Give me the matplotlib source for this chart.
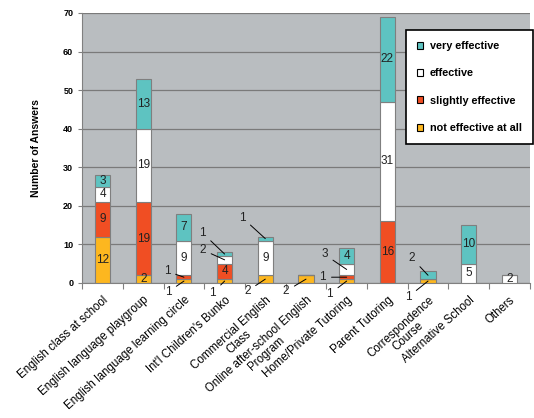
import numpy as np
import matplotlib.pyplot as plt

plt.rcParams['font.family'] = ['Liberation Sans', 'DejaVu Sans']

categories = [
    "English class at school",
    "English language playgroup",
    "English language learning circle",
    "Int'l Children's Bunko",
    "Commercial English\nClass",
    "Online after-school English\nProgram",
    "Home/Private Tutoring",
    "Parent Tutoring",
    "Correspondence\nCourse",
    "Alternative School",
    "Others",
]
not_effective = [12, 2, 1, 1, 2, 2, 1, 0, 1, 0, 0]
slightly_effective = [9, 19, 1, 4, 0, 0, 1, 16, 0, 0, 0]
effective = [4, 19, 9, 2, 9, 0, 3, 31, 0, 5, 2]
very_effective = [3, 13, 7, 1, 1, 0, 4, 22, 2, 10, 0]

series = [
    ("not effective at all", not_effective, "#FDB71F"),
    ("slightly effective", slightly_effective, "#F04E23"),
    ("effective", effective, "#FFFFFF"),
    ("very effective", very_effective, "#5EC3C1"),
]

# labels drawn outside the bar with a leader line: (category, series) -> pixel offset
outside = {
    (2, 1): (-17, 6), (2, 0): (-16, -11),
    (3, 3): (-22, 21), (3, 2): (-22, 10), (3, 0): (-12, -12),
    (4, 3): (-23, 21), (4, 0): (-18, -12),
    (5, 0): (-20, -12),
    (6, 2): (-22, 15), (6, 1): (-24, 0), (6, 0): (-17, -13),
    (8, 3): (-16, 17), (8, 0): (-20, -16),
}

fig = plt.figure(figsize=(5.34, 4.18), dpi=100)
ax = fig.add_axes([0.154, 0.323, 0.838, 0.646])
ax.set_facecolor("#B9BDC0")

x = np.arange(len(categories))
bottom = np.zeros(len(categories))
handles = []
for si, (name, vals, color) in enumerate(series):
    vals = np.array(vals, dtype=float)
    bars = ax.bar(x, vals, 0.37, bottom=bottom, color=color, edgecolor="#7F7F7F",
                  linewidth=0.8, label=name, zorder=3)
    handles.append(bars)
    for ci, v in enumerate(vals):
        if v <= 0:
            continue
        ymid = bottom[ci] + v / 2
        if (ci, si) in outside:
            dx, dy = outside[(ci, si)]
            ax.annotate(str(int(v)), xy=(x[ci], ymid), xytext=(dx, dy),
                        textcoords="offset pixels", ha="center", va="center",
                        fontsize=8.5, color="#222222", zorder=5,
                        arrowprops=dict(arrowstyle="-", lw=0.7, color="black",
                                        shrinkA=2, shrinkB=0))
        else:
            ax.text(x[ci], ymid, str(int(v)), ha="center", va="center",
                    fontsize=8.5, color="#222222", zorder=4)
    bottom += vals

ax.set_xlim(-0.5, len(categories) - 0.5)
ax.set_ylim(0, 70)
ax.set_yticks(range(0, 71, 10))
ax.yaxis.grid(True, color="#7A7A7A", linewidth=0.9, zorder=1)
ax.tick_params(axis="y", labelsize=6.5, length=3, width=0.8, color="#808080")
for lbl in ax.get_yticklabels():
    lbl.set_fontweight("bold")

ax.set_xticks(x)
ax.set_xticklabels(categories, rotation=42, ha="right", rotation_mode="anchor",
                   fontsize=8.3, linespacing=1.0, multialignment="center")
ax.tick_params(axis="x", length=0, pad=8)
ax.set_xticks(np.arange(-0.5, len(categories), 1), minor=True)
ax.tick_params(axis="x", which="minor", length=4, width=0.8, color="#808080")

for side in ["top", "right"]:
    ax.spines[side].set_visible(False)
ax.spines["left"].set_color("#808080")
ax.spines["bottom"].set_color("#808080")

ax.set_ylabel("Number of Answers", fontsize=7.5, fontweight="bold", labelpad=16)

leg = ax.legend(handles[::-1], [s[0] for s in series][::-1], loc="upper left",
                bbox_to_anchor=(0.716, 0.948), fontsize=7.8, frameon=True,
                fancybox=False, edgecolor="black", framealpha=1,
                handlelength=0.6, handleheight=0.6, labelspacing=1.6,
                borderpad=1.0, handletextpad=0.6, borderaxespad=0.3,
                prop={"weight": "bold", "size": 7.8})
leg.get_frame().set_linewidth(1.2)
leg.set_zorder(10)
for h in leg.legend_handles:
    h.set_edgecolor("black")

fig.savefig("out.png", dpi=100, facecolor="white")
